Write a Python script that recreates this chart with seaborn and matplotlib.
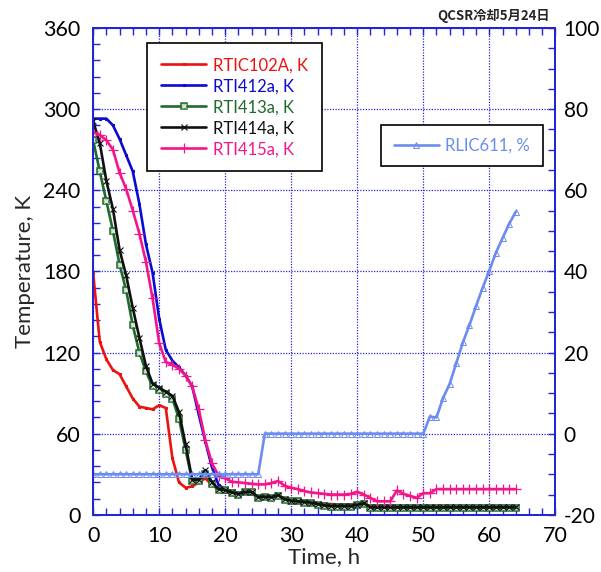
import matplotlib
matplotlib.use("Agg")
import matplotlib.pyplot as plt
from matplotlib.ticker import MultipleLocator
import seaborn as sns
import pandas as pd

# Cooling run record: hourly readings
time_h = list(range(65))

rtic102a = [179, 128, 115, 107, 104, 95, 86, 80, 79, 78,
            81, 79, 42, 24, 20, 21, 24, 27, 22, 19,
            17, 16, 15.5, 16, 15.5, 13, 13, 12.5, 13.5, 11.5,
            10.5, 10, 9.5, 9, 8.5, 8, 8, 7.5, 7.5, 7.5,
            8.5, 8, 6.5, 6.5, 6.5, 6.5, 6.5, 6.5, 6.5, 6.5,
            6.5, 6.5, 6.5, 6.5, 6.5, 6.5, 6.5, 6.5, 6.5, 6.5,
            6.5, 6.5, 6.5, 6.5, 6.5]

rti412a = [293, 293, 293, 288, 278, 266, 254, 230, 200, 179,
           145, 122, 114, 109, 103, 95, 74, 54, 35, 22,
           19, 17, 16, 16.5, 16.5, 13, 13.5, 13, 14, 11.5,
           10.5, 10, 9.5, 9, 8, 7, 6.5, 6.5, 6.5, 6.5,
           7.5, 8, 5.5, 5.5, 5.5, 5.5, 5.5, 5.5, 5.5, 5.5,
           5.5, 5.5, 5.5, 5.5, 5.5, 5.5, 5.5, 5.5, 5.5, 5.5,
           5.5, 5.5, 5.5, 5.5, 5.5]

rti413a = [277, 254, 232, 210, 185, 166, 140, 120, 106, 95,
           92, 89, 86, 71, 48, 25, 25, 30, 23, 18,
           18.5, 16, 15, 16.5, 16.5, 12.5, 13, 12.5, 14, 11,
           10.5, 10, 9, 8.5, 7.5, 6.5, 6, 6, 6, 6,
           7, 8, 5, 5, 5, 5, 5, 5, 5, 5,
           5, 5, 5, 5, 5, 5, 5, 5, 5, 5,
           5, 5, 5, 5, 5]

rti414a = [291, 275, 247, 226, 196, 177, 153, 131, 110, 97,
           94, 91, 88, 76, 52, 26, 26, 33, 24, 19,
           18.5, 16.5, 15.5, 17, 17, 13, 13.5, 13, 14.5, 11.5,
           10.5, 10, 9.5, 9, 8, 7, 6.5, 6.5, 6.5, 6.5,
           7.5, 8.5, 5.5, 5.5, 5.5, 5.5, 5.5, 5.5, 5.5, 5.5,
           5.5, 5.5, 5.5, 5.5, 5.5, 5.5, 5.5, 5.5, 5.5, 5.5,
           5.5, 5.5, 5.5, 5.5, 5.5]

rti415a = [283, 281, 277, 270, 253, 241, 225, 208, 187, 160,
           127, 113, 111, 108, 103, 95, 78, 55, 38, 29,
           27, 24.5, 24, 23.5, 23, 22.5, 22.5, 23.5, 25, 21.5,
           20, 19, 17.5, 16.5, 16, 15.5, 15, 15, 15, 15.5,
           17, 15, 12.5, 10, 10, 10, 18, 15.5, 14, 12.5,
           16, 16, 19, 19, 19, 19, 19, 19, 19, 19,
           19, 19, 19, 19, 19]

# Valve opening (right axis)
rlic611_time = list(range(65))
rlic611 = [-10, -10, -10, -10, -10, -10, -10, -10, -10, -10,
           -10, -10, -10, -10, -10, -10, -10, -10, -10, -10,
           -10, -10, -10, -10, -10, -10, 0, 0, 0, 0,
           0, 0, 0, 0, 0, 0, 0, 0, 0, 0,
           0, 0, 0, 0, 0, 0, 0, 0, 0, 0,
           0, 4.2, 4, 8.8, 12.3, 17.4, 22.5, 26.8, 31.5, 36,
           40.2, 44.6, 48.2, 51.7, 54.7]

temp_labels = ["RTIC102A, K", "RTI412a, K", "RTI413a, K", "RTI414a, K", "RTI415a, K"]
pct_label = "RLIC611, %"
x_ticks = [0, 10, 20, 30, 40, 50, 60, 70]
y_ticks = [0, 60, 120, 180, 240, 300, 360]
y2_ticks = [-20, 0, 20, 40, 60, 80, 100]

sns.set_style("ticks")
plt.rcParams["font.family"] = ["Lato", "DejaVu Sans"]
plt.rcParams["axes.unicode_minus"] = False

AX_BLUE = "#2323dc"
C_RED = "#ee1111"
C_BLUE = "#0a0ad2"
C_GREEN = "#1f6b2c"
C_BLACK = "#101010"
C_PINK = "#f3168a"
C_LBLUE = "#6c8cf0"

fig = plt.figure(figsize=(6.01, 5.72), dpi=100)
ax = fig.add_axes([0.155, 0.10, 0.769, 0.851])

df = pd.DataFrame({"time": time_h, "r102": rtic102a, "r412": rti412a,
                   "r413": rti413a, "r414": rti414a, "r415": rti415a})
dfp = pd.DataFrame({"time": rlic611_time, "r611": rlic611})

sns.lineplot(data=df, x="time", y="r102", ax=ax, color=C_RED, lw=1.9,
             marker="s", ms=2, mec=C_RED, label=temp_labels[0])
sns.lineplot(data=df, x="time", y="r412", ax=ax, color=C_BLUE, lw=1.9,
             marker="s", ms=2, mec=C_BLUE, label=temp_labels[1])
sns.lineplot(data=df, x="time", y="r413", ax=ax, color=C_GREEN, lw=1.9,
             marker="s", ms=5, mfc="#b5cbb5", mec=C_GREEN, mew=1.1,
             label=temp_labels[2])
sns.lineplot(data=df, x="time", y="r413", ax=ax, color="white", lw=0,
             marker="x", ms=2.6, mew=0.7, markeredgecolor="#f0f0f0")
sns.lineplot(data=df, x="time", y="r414", ax=ax, color=C_BLACK, lw=1.9,
             marker="x", ms=4.5, mew=0.8, mec=C_BLACK, label=temp_labels[3])
sns.lineplot(data=df, x="time", y="r415", ax=ax, color=C_PINK, lw=1.9,
             marker="+", ms=7, mew=0.9, mec=C_PINK, label=temp_labels[4])

lines = ax.get_lines()
handles = [lines[0], lines[1], (lines[2], lines[3]), lines[4], lines[5]]
if ax.get_legend() is not None:
    ax.get_legend().remove()

ax.set_xlim(0, 70)
ax.set_ylim(0, 360)
ax.set_xticks(x_ticks)
ax.set_yticks(y_ticks)
ax.xaxis.set_minor_locator(MultipleLocator(2))
ax.yaxis.set_minor_locator(MultipleLocator(12))
ax.grid(True, which="major", color=AX_BLUE, linestyle=(0, (1, 1.2)), lw=0.9)
ax.tick_params(axis="both", which="both", direction="in", color=AX_BLUE,
               length=5, width=1, labelsize=15.5, labelcolor="black")
ax.tick_params(axis="x", which="both", top=True, pad=8)
ax.tick_params(axis="y", which="both", right=False, pad=9)
for sp in ax.spines.values():
    sp.set_color(AX_BLUE)
    sp.set_linewidth(1.4)
ax.set_xlabel("Time, h", fontsize=16, labelpad=1)
ax.set_ylabel("Temperature, K", fontsize=16, labelpad=6)

ax2 = ax.twinx()
sns.lineplot(data=dfp, x="time", y="r611", ax=ax2, color=C_LBLUE, lw=1.9,
             marker="^", ms=4, mfc="none", mec=C_LBLUE, mew=0.7, label=pct_label)
if ax2.get_legend() is not None:
    ax2.get_legend().remove()
ax2.set_ylim(-20, 100)
ax2.set_yticks(y2_ticks)
ax2.yaxis.set_minor_locator(MultipleLocator(5))
ax2.set_ylabel("")
ax2.tick_params(axis="y", which="both", direction="in", color=AX_BLUE,
                length=5, width=1, labelsize=15, labelcolor="black", pad=6)
for sp in ax2.spines.values():
    sp.set_color(AX_BLUE)
    sp.set_linewidth(1.4)

leg1 = ax2.legend(handles, temp_labels, loc="upper left",
                  bbox_to_anchor=(0.117, 0.969), frameon=True, fancybox=False,
                  edgecolor="black", framealpha=1, fontsize=12, handlelength=2.7,
                  borderpad=0.85, labelspacing=0.3, handletextpad=0.4,
                  borderaxespad=0)
leg1.get_frame().set_linewidth(1.2)
for txt, col in zip(leg1.get_texts(), [C_RED, C_BLUE, C_GREEN, C_BLACK, C_PINK]):
    txt.set_color(col)
ax2.add_artist(leg1)

leg2 = ax2.legend([ax2.get_lines()[0]], [pct_label], loc="upper left",
                  bbox_to_anchor=(0.623, 0.801), frameon=True, fancybox=False,
                  edgecolor="black", framealpha=1, fontsize=12, handlelength=2.7,
                  borderpad=0.75, handletextpad=0.4, borderaxespad=0)
leg2.get_frame().set_linewidth(1.2)
leg2.get_texts()[0].set_color(C_LBLUE)

fig.text(0.915, 0.972, "QCSR冷却5月24日", ha="right", va="center", fontsize=9.5,
         fontweight="bold", family=["Noto Sans CJK JP", "DejaVu Sans"])

fig.savefig("out.png", dpi=100)
